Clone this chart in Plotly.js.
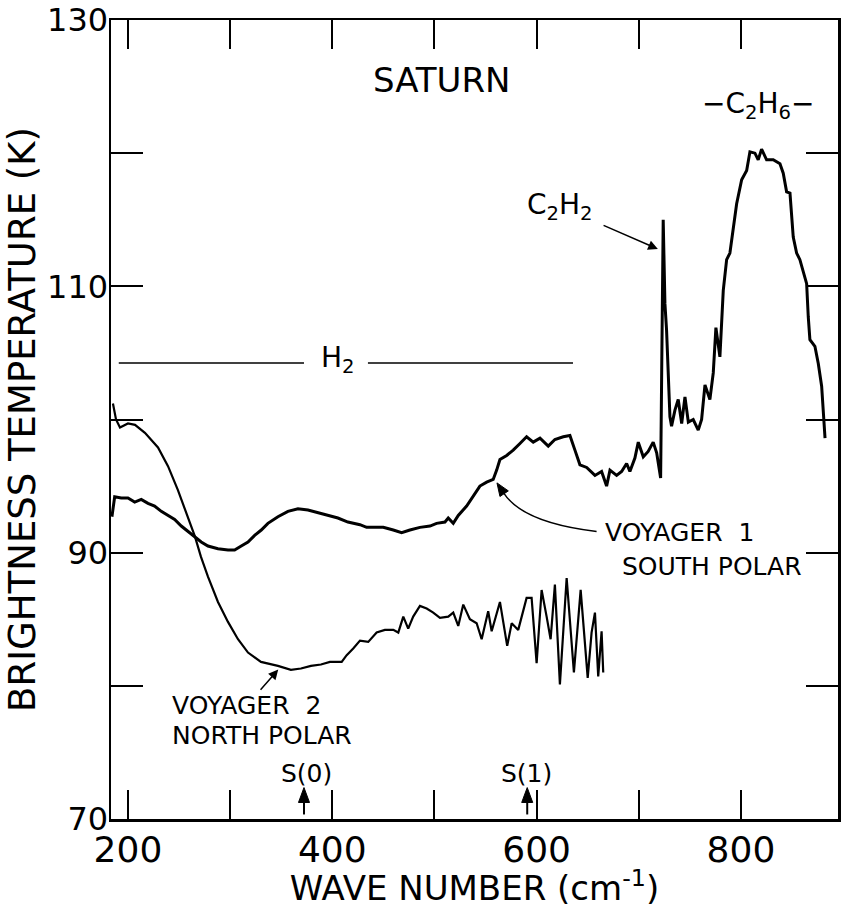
<!DOCTYPE html>
<html>
<head>
<meta charset="utf-8">
<script src="https://cdn.plot.ly/plotly-3.0.1.min.js"></script>
<style>html,body{margin:0;padding:0;background:#fff;}#chart{width:841px;height:908px;}</style>
</head>
<body>
<div id="chart"></div>
<script>
// Voyager 1 south polar spectrum (wavenumber cm^-1, brightness temperature K)
const waveV1 = [184.3,187.0,193.4,200.0,206.6,213.0,219.6,226.1,232.6,239.2,245.7,252.2,258.7,265.3,271.7,278.3,288.1,297.9,304.4,310.9,317.5,324.0,330.5,337.0,346.8,356.6,366.4,376.2,386.0,395.8,405.5,415.3,427.1,433.6,443.4,449.9,459.7,467.9,476.0,485.8,495.6,502.1,510.3,513.5,518.4,523.3,531.5,538.0,544.5,551.1,557.5,560.9,564.1,570.7,577.1,583.7,590.2,596.7,603.3,611.4,617.9,626.1,632.6,637.5,642.4,649.0,657.1,663.6,668.5,671.8,678.3,683.2,688.1,691.3,696.2,699.5,704.4,709.2,714.1,717.5,721.4,723.9,725.6,727.2,730.5,732.1,735.4,738.6,742.0,745.2,748.5,753.3,758.2,761.5,764.8,769.6,772.9,775.5,779.4,782.7,786.0,789.2,792.5,795.8,800.7,805.6,808.8,813.7,816.9,820.2,825.1,831.6,838.2,841.4,844.7,848.0,851.2,854.5,857.7,861.0,864.3,865.9,867.5,872.4,875.7,879.0,882.3];
const tempV1 = [92.7,94.2,94.1,94.1,93.8,94.0,93.7,93.5,93.1,92.8,92.5,92.0,91.6,91.2,90.8,90.5,90.3,90.2,90.2,90.5,90.8,91.3,91.7,92.2,92.7,93.1,93.3,93.2,93.0,92.8,92.6,92.3,92.1,91.9,91.9,91.9,91.7,91.5,91.7,91.9,92.0,92.2,92.3,92.6,92.2,92.8,93.5,94.3,95.0,95.3,95.5,96.2,97.0,97.3,97.7,98.2,98.7,98.3,98.6,98.0,98.5,98.7,98.8,97.7,96.6,96.4,95.8,96.1,95.0,96.2,95.8,96.1,96.7,96.1,97.1,98.3,97.2,97.6,98.3,97.5,95.6,115.0,108.7,106.7,100.2,99.5,100.7,101.5,99.7,101.7,99.8,100.0,99.2,100.0,102.6,101.5,103.5,106.9,104.7,109.7,112.0,112.5,114.2,116.2,118.0,118.7,120.1,120.0,119.5,120.3,119.5,119.5,119.2,118.5,117.1,117.0,113.7,112.5,112.0,111.0,110.2,107.7,106.0,105.5,104.2,102.5,98.6];

// Voyager 2 north polar spectrum
const waveV2 = [185.3,188.3,192.2,200.0,206.9,216.6,229.4,239.2,248.9,258.7,265.6,271.4,278.3,288.1,297.9,307.7,317.5,330.2,346.8,359.5,369.3,379.1,388.9,397.7,409.2,414.1,420.5,427.1,435.2,443.4,451.5,459.7,464.6,469.5,474.3,479.2,485.8,492.4,498.8,505.4,513.5,518.4,523.3,528.2,534.7,541.3,546.2,552.6,556.0,564.1,571.2,575.6,582.0,590.2,595.1,600.0,604.9,609.8,613.7,617.9,622.8,629.4,636.5,643.1,650.0,653.8,657.1,660.3,663.6,665.2];
const tempV2 = [101.2,100.0,99.4,99.7,99.6,99.0,97.9,96.5,94.7,92.7,91.2,89.7,88.2,86.3,84.8,83.5,82.5,81.8,81.5,81.2,81.3,81.5,81.6,81.8,81.8,82.3,82.8,83.4,83.3,84.0,84.2,84.2,84.0,85.2,84.3,85.2,86.0,85.8,85.5,85.1,85.2,85.5,84.5,86.1,85.0,84.7,83.5,85.6,84.1,86.3,83.0,84.7,84.2,86.6,86.6,81.7,87.2,85.2,83.5,87.6,80.1,88.1,81.0,87.2,80.6,84.0,85.5,80.7,84.1,81.0];

// Axis ticks (labelled major ticks and unlabelled minor ticks)
const xTickVals = [200,400,600,800];
const xMinorVals = [300,500,700];
const yTickVals = [70,90,110,130];
const yMinorVals = [80,100,120];

const FONT = 'DejaVu Sans';
const BLACK = '#000';

const traces = [
  {x: waveV1, y: tempV1, type: 'scatter', mode: 'lines', name: 'Voyager 1 South Polar',
   line: {color: BLACK, width: 3}},
  {x: waveV2, y: tempV2, type: 'scatter', mode: 'lines', name: 'Voyager 2 North Polar',
   line: {color: BLACK, width: 2.2}}
];

const axisCommon = {
  showgrid: false, zeroline: false, showline: true, mirror: 'ticks',
  linecolor: BLACK, linewidth: 2.5, ticks: 'inside', tickcolor: BLACK,
  tickwidth: 2, tickmode: 'array', automargin: false
};

const ann = (o) => Object.assign({xref: 'x', yref: 'y', showarrow: false,
  font: {family: FONT, size: 25, color: BLACK}}, o);

const arrowStyle = {showarrow: true, arrowhead: 2, arrowsize: 1.3, arrowwidth: 1.5,
  arrowcolor: BLACK, standoff: 0};

const layout = {
  width: 841, height: 908,
  margin: {l: 111, r: 3, t: 20, b: 89},
  paper_bgcolor: '#fff', plot_bgcolor: '#fff',
  showlegend: false,
  font: {family: FONT, color: BLACK},
  xaxis: Object.assign({}, axisCommon, {
    range: [183.4, 895], tickvals: xTickVals, ticklen: 29,
    minor: {tickmode: 'array', tickvals: xMinorVals, ticks: 'inside', ticklen: 29, tickwidth: 2, tickcolor: BLACK},
    tickfont: {family: FONT, size: 36, color: BLACK},
    ticklabelstandoff: -3,
    title: {text: 'WAVE NUMBER (cm<sup>-1</sup>)', font: {family: FONT, size: 34, color: BLACK}, standoff: 14}
  }),
  yaxis: Object.assign({}, axisCommon, {
    range: [70, 130], tickvals: yTickVals, ticklen: 32,
    minor: {tickmode: 'array', tickvals: yMinorVals, ticks: 'inside', ticklen: 32, tickwidth: 2, tickcolor: BLACK},
    tickfont: {family: FONT, size: 32, color: BLACK},
    ticklabelstandoff: -6,
    title: {text: 'BRIGHTNESS TEMPERATURE (K)', font: {family: FONT, size: 37, color: BLACK}, standoff: 0}
  }),
  shapes: [
    // H2 band line (gap for its label)
    {type: 'line', xref: 'x', yref: 'y', x0: 191, x1: 372.3, y0: 104.25, y1: 104.25, line: {color: BLACK, width: 1.5}},
    {type: 'line', xref: 'x', yref: 'y', x0: 434.9, x1: 635.6, y0: 104.25, y1: 104.25, line: {color: BLACK, width: 1.5}},
    // curved pointer to the Voyager 1 curve, with its head
    {type: 'path', xref: 'x', yref: 'y', path: 'M 658.7 91.59 Q 587.1 92.25 568.2 94.43', line: {color: BLACK, width: 1.5}},
    {type: 'path', xref: 'x', yref: 'y', path: 'M 561.2 95.24 L 572.3 94.64 L 564.1 94.22 Z',
     fillcolor: BLACK, line: {color: BLACK, width: 1}},
    // S(0) and S(1) line markers
    {type: 'line', xref: 'x', yref: 'y', x0: 372.3, x1: 372.3, y0: 70.34, y1: 71.4, line: {color: BLACK, width: 2}},
    {type: 'path', xref: 'x', yref: 'y', path: 'M 372.3 72.36 L 366.9 71.24 L 377.7 71.24 Z',
     fillcolor: BLACK, line: {color: BLACK, width: 1}},
    {type: 'line', xref: 'x', yref: 'y', x0: 590.8, x1: 590.8, y0: 70.34, y1: 71.4, line: {color: BLACK, width: 2}},
    {type: 'path', xref: 'x', yref: 'y', path: 'M 590.8 72.36 L 585.4 71.24 L 596.2 71.24 Z',
     fillcolor: BLACK, line: {color: BLACK, width: 1}}
  ],
  annotations: [
    ann({x: 507.3, y: 125.5, text: 'SATURN', font: {family: FONT, size: 34, color: BLACK}}),
    ann(Object.assign({x: 718.7, y: 112.8, ax: 622.8, ay: 116.0, axref: 'x', ayref: 'y',
         text: 'C<sub>2</sub>H<sub>2</sub>', startstandoff: 10,
         font: {family: FONT, size: 28, color: BLACK}}, arrowStyle)),
    ann({x: 816.6, y: 123.6, text: '\u2212C<sub>2</sub>H<sub>6</sub>\u2212', font: {family: FONT, size: 28, color: BLACK}}),
    ann({x: 405.5, y: 104.25, yshift: 3, text: 'H<sub>2</sub>', font: {family: FONT, size: 28, color: BLACK}}),
    ann(Object.assign({x: 347.1, y: 81.22, ax: 316.0, ay: 78.51, axref: 'x', ayref: 'y',
         text: 'VOYAGER  2'}, arrowStyle)),
    ann({x: 241.1, y: 76.26, xanchor: 'left', text: 'NORTH POLAR'}),
    ann({x: 664.9, y: 91.49, xanchor: 'left', text: 'VOYAGER  1'}),
    ann({x: 681.5, y: 88.94, xanchor: 'left', text: 'SOUTH POLAR'}),
    ann({x: 375.2, y: 73.41, text: 'S(0)'}),
    ann({x: 590.2, y: 73.41, text: 'S(1)'})
  ]
};

Plotly.newPlot('chart', traces, layout, {displayModeBar: false, staticPlot: true});
</script>
</body>
</html>
